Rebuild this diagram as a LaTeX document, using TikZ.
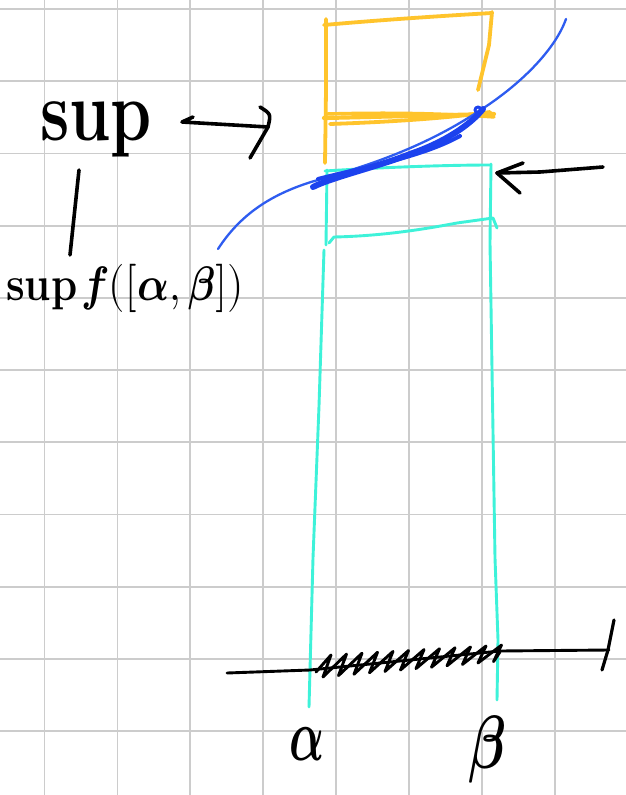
\documentclass[tikz,border=0pt]{standalone}
\usepackage{unicode-math}
\usepackage{graphicx}
\definecolor{gridc}{RGB}{204,204,204}
\definecolor{ora}{RGB}{255,196,44}
\definecolor{cya}{RGB}{62,242,217}
\definecolor{blu}{RGB}{46,92,240}
\definecolor{bluk}{RGB}{28,66,238}
\tikzset{
  gridline/.style={draw=gridc, line width=1.8pt},
  orangeink/.style={draw=ora, line width=3.8pt},
  cyanink/.style={draw=cya, line width=2.9pt},
  blueink/.style={draw=blu, line width=2.3pt},
  thickblue/.style={draw=bluk, line width=6pt},
  ink/.style={draw=black, line width=3.6pt},
  axisink/.style={draw=black, line width=2.9pt},
  hand/.style={inner sep=0pt, outer sep=2pt, text=black}
}
\begin{document}
\begin{tikzpicture}[x=1pt, y=-1pt, line cap=round, line join=round]
\useasboundingbox (0,0) rectangle (626,795);
\fill[white] (0,0) rectangle (626,795);
% grid
\foreach \k in {0,...,7} \draw[gridline] ({44.5+72.9*\k},0) -- ({44.5+72.9*\k},795);
\foreach \k in {0,...,10} \draw[gridline] (0,{9+72.2*\k}) -- (626,{9+72.2*\k});

% orange box
\draw[orangeink] (326,19) -- (326,90) -- (325,163);
\draw[orangeink] (324,25) .. controls (380,20) and (440,16) .. (492,13);
\draw[orangeink] (492,12) -- (489,45) -- (478,90);
\draw[orangeink, line width=4.2pt] (324,118) -- (494,114);
\draw[orangeink, line width=3.8pt] (330,124) .. controls (390,122) and (450,118) .. (490,112);
\draw[orangeink, line width=3.4pt] (326,114) .. controls (400,112) and (450,114) .. (494,117);

% cyan box
\draw[cyanink] (325,171) .. controls (370,168) and (440,165) .. (491,165);
\draw[cyanink] (327,170) -- (326,245);
\draw[cyanink] (324,250) -- (319,406) -- (313,558) -- (309,707);
\draw[cyanink] (491,164) -- (490,243) -- (495,558) -- (498,640) -- (497,700);
\draw[cyanink] (329,243) -- (334,237) .. controls (380,236) and (420,230) .. (457,223) -- (493,218) -- (497,228);

% blue curve
\draw[blueink] (218,249) .. controls (240,215) and (270,195) .. (311,182)
  .. controls (360,168) and (420,150) .. (479,111)
  .. controls (520,85) and (555,50) .. (566,19);
\draw[thickblue] (313,187) .. controls (330,178) and (380,166) .. (410,154)
  .. controls (445,142) and (470,125) .. (483,109);
\draw[bluk, line width=4pt] (318,179) .. controls (360,168) and (420,158) .. (460,136);
\draw[bluk, line width=3pt] (478,110) circle (3);

% axis
\draw[axisink] (227,673) -- (310,670) -- (500,651) -- (609,650);
\draw[ink, line width=3.2pt] (614,620) -- (608,650) -- (602,670);
\draw[axisink] (316,672) \foreach \i in {0,...,11} { -- ({331+15.5*\i},{655-0.9*\i}) -- ({323+15.5*\i},{677-1.4*\i}) } -- (500,652);

% labels
\node[hand, anchor=base] (sup) at (96,140) {\scalebox{1}[1.3]{\fontsize{66}{66}\selectfont\bfseries sup}};
\node[hand, anchor=base] (supf) at (125,300) {\scalebox{1}[1.15]{\fontsize{42}{42}\selectfont\bfseries sup\kern4pt$\symbfit{f}([\symbfit{\alpha},\symbfit{\beta}])$}};
\node[hand, anchor=base] (alab) at (307,760) {\scalebox{1}[1.6]{\fontsize{46}{46}\selectfont $\symbfit{\alpha}$}};
\node[hand, anchor=base] (blab) at (487,768) {\scalebox{1}[1.3]{\fontsize{58}{58}\selectfont $\symbfit{\beta}$}};

% connector sup -- sup f
\coordinate (vtop) at (79,170);
\coordinate (vbot) at (70,255);
\draw[ink] (vtop) -- (vbot);

% arrow from sup to orange top
\coordinate (sa) at (182,122);
\coordinate (sb) at (268,127);
\draw[ink] (193,117) -- (sa) -- (sb);
\draw[ink] (260,107) .. controls (271,114) .. (sb) -- (250,158);

% arrow pointing at cyan top
\coordinate (ra) at (603,167);
\coordinate (rb) at (497,173);
\draw[ink] (ra) -- (540,172) -- (rb);
\draw[ink] (523,163) -- (rb) -- (520,193);
\end{tikzpicture}
\end{document}
